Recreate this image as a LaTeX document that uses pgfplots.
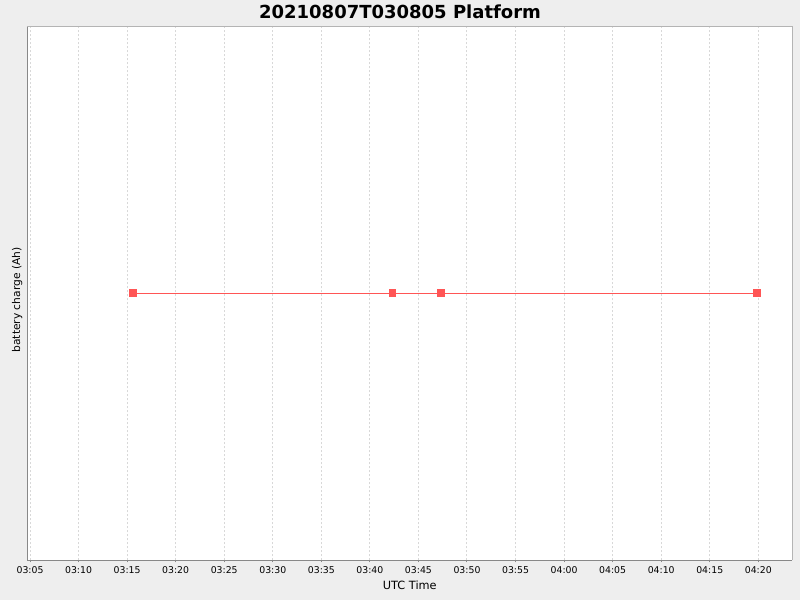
\documentclass[border=0pt]{standalone}
\usepackage{pgfplots}
\pgfplotsset{compat=1.18}
\usepackage{fontspec}
\setmainfont{DejaVu Sans}
\definecolor{bg}{HTML}{EEEEEE}
\definecolor{axisgray}{HTML}{888888}
\definecolor{bordergray}{HTML}{B4B4B4}
\definecolor{gridgray}{HTML}{D8D8D8}
\definecolor{serred}{HTML}{FF5555}
\begin{document}
\begin{tikzpicture}[x=0.75pt,y=0.75pt]
\fill[bg] (0,0) rectangle (800,600);
\useasboundingbox (0,0) rectangle (800,600);
\begin{axis}[
  at={(20.475pt,29.775pt)}, anchor=south west,
  scale only axis, width=573.75pt, height=400.5pt,
  xmin=4.72, xmax=83.5, ymin=99, ymax=101,
  axis background/.style={fill=white},
  axis lines*=left,
  axis line style={color=axisgray, line width=0.75pt},
  xtick={5,10,...,80},
  xticklabels={03:05,03:10,03:15,03:20,03:25,03:30,03:35,03:40,03:45,03:50,03:55,04:00,04:05,04:10,04:15,04:20},
  ytick=\empty,
  tick align=outside, major tick length=1.5pt,
  xtick style={color=axisgray, line width=0.75pt},
  xticklabel style={font=\fontsize{7}{8}\selectfont, anchor=base, yshift=-8.5pt},
  xmajorgrids,
  grid style={color=gridgray, line width=0.75pt, dash pattern=on 1.5pt off 1.5pt},
  clip=false,
]
\addplot[color=serred, line width=0.75pt, mark=square*, mark size=2.6pt,
  mark options={draw=none, fill=serred}] coordinates {
  (15.64,100) (42.33,100) (47.37,100) (79.91,100)
};
\draw[color=bordergray, line width=0.75pt] (rel axis cs:0,1) -- (rel axis cs:1,1) -- (rel axis cs:1,0);
\end{axis}
\node[anchor=base, font=\bfseries\fontsize{13.5}{16}\selectfont, inner sep=0pt] at (400,581) {20210807T030805 Platform};
\node[anchor=base, font=\fontsize{8.5}{10}\selectfont, inner sep=0pt] at (409.8,10.3) {UTC Time};
\node[anchor=base, rotate=90, font=\fontsize{8}{10}\selectfont, inner sep=0pt] at (20,300) {battery charge (Ah)};
\end{tikzpicture}
\end{document}
